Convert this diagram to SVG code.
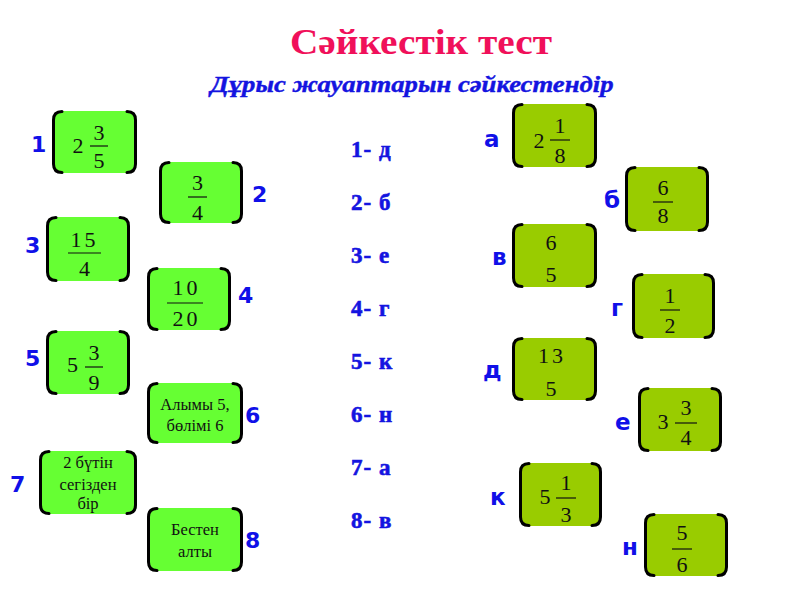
<svg xmlns="http://www.w3.org/2000/svg" width="800" height="600" viewBox="0 0 800 600">
<style>
.bl{fill:#66FF33}
.br{fill:#99CC00}
.br2{fill:none;stroke:#000;stroke-width:3;stroke-linecap:round}
.d{font-family:"Liberation Serif","Times New Roman",serif;font-size:22px;fill:#111;text-anchor:middle}
.w{font-family:"Liberation Serif","Times New Roman",serif;font-size:16.5px;fill:#111;text-anchor:middle}
.bar{stroke:#111;stroke-width:1.2}
.lab{font-family:"DejaVu Sans","Verdana",sans-serif;font-weight:bold;font-size:22px;fill:#1010E8}
.labl{font-family:"DejaVu Sans","Verdana",sans-serif;font-weight:bold;font-size:23px;fill:#1010E8}
.ans{font-family:"Liberation Serif","Times New Roman",serif;font-weight:700;font-size:23px;fill:#1414E0;stroke:#1414E0;stroke-width:0.6;letter-spacing:1px}
</style>
<rect width="800" height="600" fill="#fff"/>
<text x="421" y="54" text-anchor="middle" font-family="Liberation Serif,Times New Roman,serif" font-weight="bold" font-size="35" fill="#F0105A" textLength="262" lengthAdjust="spacingAndGlyphs">Сәйкестік тест</text>
<text x="412" y="92" text-anchor="middle" font-family="Liberation Serif,Times New Roman,serif" font-weight="bold" font-style="italic" font-size="23" fill="#1414E0" stroke="#1414E0" stroke-width="0.4" textLength="403" lengthAdjust="spacingAndGlyphs">Дұрыс жауаптарын сәйкестендір</text>

<g id="answers" font-weight="bold">
<text class="ans" x="351" y="157">1- д</text>
<text class="ans" x="351" y="210">2- б</text>
<text class="ans" x="351" y="263">3- е</text>
<text class="ans" x="351" y="316">4- г</text>
<text class="ans" x="351" y="369">5- к</text>
<text class="ans" x="351" y="422">6- н</text>
<text class="ans" x="351" y="475">7- а</text>
<text class="ans" x="351" y="528">8- в</text>
</g>

<g id="n1" transform="translate(52,110)">
<rect class="bl" x="1" y="1" width="83" height="62" rx="7"/>
<path class="br2" d="M10 1.5Q1.5 1.5 1.5 10V54Q1.5 62.5 10 62.5M75 1.5Q83.5 1.5 83.5 10V54Q83.5 62.5 75 62.5"/>
<text class="d" x="26" y="43">2</text><line class="bar" x1="38" y1="36" x2="56" y2="36"/>
<text class="d" x="47" y="30">3</text><text class="d" x="47" y="58">5</text>
</g>
<text class="lab" x="31" y="152">1</text>

<g id="n2" transform="translate(159,161)">
<rect class="bl" x="1" y="1" width="82" height="61" rx="7"/>
<path class="br2" d="M10 1.5Q1.5 1.5 1.5 10V53Q1.5 61.5 10 61.5M74 1.5Q82.5 1.5 82.5 10V53Q82.5 61.5 74 61.5"/>
<line class="bar" x1="29" y1="36" x2="48" y2="36"/>
<text class="d" x="38.5" y="29">3</text><text class="d" x="38.5" y="59">4</text>
</g>
<text class="lab" x="252" y="202">2</text>

<g id="n3" transform="translate(46,216)">
<rect class="bl" x="1" y="1" width="82" height="64" rx="7"/>
<path class="br2" d="M10 1.5Q1.5 1.5 1.5 10V56Q1.5 64.5 10 64.5M74 1.5Q82.5 1.5 82.5 10V56Q82.5 64.5 74 64.5"/>
<line class="bar" x1="22" y1="37" x2="55" y2="37"/>
<text class="d" x="38.5" y="31" letter-spacing="3">15</text><text class="d" x="38.5" y="60">4</text>
</g>
<text class="lab" x="25" y="253">3</text>

<g id="n4" transform="translate(147,267)">
<rect class="bl" x="1" y="1" width="82" height="62" rx="7"/>
<path class="br2" d="M10 1.5Q1.5 1.5 1.5 10V54Q1.5 62.5 10 62.5M74 1.5Q82.5 1.5 82.5 10V54Q82.5 62.5 74 62.5"/>
<line class="bar" x1="20" y1="36" x2="56" y2="36"/>
<text class="d" x="39.5" y="28" letter-spacing="3">10</text><text class="d" x="39.5" y="59" letter-spacing="3">20</text>
</g>
<text class="lab" x="238" y="303">4</text>

<g id="n5" transform="translate(46,330)">
<rect class="bl" x="1" y="1" width="82" height="63" rx="7"/>
<path class="br2" d="M10 1.5Q1.5 1.5 1.5 10V55Q1.5 63.5 10 63.5M74 1.5Q82.5 1.5 82.5 10V55Q82.5 63.5 74 63.5"/>
<text class="d" x="26.5" y="42">5</text><line class="bar" x1="39" y1="37" x2="57" y2="37"/>
<text class="d" x="48" y="30">3</text><text class="d" x="48" y="60">9</text>
</g>
<text class="lab" x="25" y="366">5</text>

<g id="n6" transform="translate(147,382)">
<rect class="bl" x="1" y="1" width="94" height="60" rx="7"/>
<path class="br2" d="M10 1.5Q1.5 1.5 1.5 10V52Q1.5 60.5 10 60.5M86 1.5Q94.5 1.5 94.5 10V52Q94.5 60.5 86 60.5"/>
<text class="w" x="48" y="28">Алымы 5,</text><text class="w" x="48" y="49">бөлімі 6</text>
</g>
<text class="lab" x="245" y="423">6</text>

<g id="n7" transform="translate(39,450)">
<rect class="bl" x="1" y="1" width="96" height="63" rx="7"/>
<path class="br2" d="M10 1.5Q1.5 1.5 1.5 10V55Q1.5 63.5 10 63.5M88 1.5Q96.5 1.5 96.5 10V55Q96.5 63.5 88 63.5"/>
<text class="w" x="49" y="18">2 бүтін</text><text class="w" x="49" y="40">сегізден</text><text class="w" x="49" y="59">бір</text>
</g>
<text class="lab" x="10" y="492">7</text>

<g id="n8" transform="translate(147,507)">
<rect class="bl" x="1" y="1" width="94" height="63" rx="7"/>
<path class="br2" d="M10 1.5Q1.5 1.5 1.5 10V55Q1.5 63.5 10 63.5M86 1.5Q94.5 1.5 94.5 10V55Q94.5 63.5 86 63.5"/>
<text class="w" x="48" y="28">Бестен</text><text class="w" x="48" y="50">алты</text>
</g>
<text class="lab" x="245" y="548">8</text>

<g id="na" transform="translate(512,103)">
<rect class="br" x="1" y="1" width="83" height="63" rx="7"/>
<path class="br2" d="M10 1.5Q1.5 1.5 1.5 10V55Q1.5 63.5 10 63.5M75 1.5Q83.5 1.5 83.5 10V55Q83.5 63.5 75 63.5"/>
<text class="d" x="27" y="45">2</text><line class="bar" x1="38" y1="37" x2="58" y2="37"/>
<text class="d" x="48" y="30">1</text><text class="d" x="48" y="60">8</text>
</g>
<text class="labl" x="484" y="147">а</text>

<g id="nb" transform="translate(625,166)">
<rect class="br" x="1" y="1" width="82" height="64" rx="7"/>
<path class="br2" d="M10 1.5Q1.5 1.5 1.5 10V56Q1.5 64.5 10 64.5M74 1.5Q82.5 1.5 82.5 10V56Q82.5 64.5 74 64.5"/>
<line class="bar" x1="28" y1="36" x2="48" y2="36"/>
<text class="d" x="38" y="29">6</text><text class="d" x="38" y="57">8</text>
</g>
<text class="labl" x="604" y="208">б</text>

<g id="nv" transform="translate(512,223)">
<rect class="br" x="1" y="1" width="83" height="63" rx="7"/>
<path class="br2" d="M10 1.5Q1.5 1.5 1.5 10V55Q1.5 63.5 10 63.5M75 1.5Q83.5 1.5 83.5 10V55Q83.5 63.5 75 63.5"/>
<text class="d" x="39" y="27">6</text><text class="d" x="39" y="59">5</text>
</g>
<text class="labl" x="492" y="265">в</text>

<g id="ng" transform="translate(632,273)">
<rect class="br" x="1" y="1" width="81" height="64" rx="7"/>
<path class="br2" d="M10 1.5Q1.5 1.5 1.5 10V56Q1.5 64.5 10 64.5M73 1.5Q81.5 1.5 81.5 10V56Q81.5 64.5 73 64.5"/>
<line class="bar" x1="28" y1="37" x2="48" y2="37"/>
<text class="d" x="38" y="30">1</text><text class="d" x="38" y="60">2</text>
</g>
<text class="labl" x="611" y="316">г</text>

<g id="nd" transform="translate(512,337)">
<rect class="br" x="1" y="1" width="83" height="62" rx="7"/>
<path class="br2" d="M10 1.5Q1.5 1.5 1.5 10V54Q1.5 62.5 10 62.5M75 1.5Q83.5 1.5 83.5 10V54Q83.5 62.5 75 62.5"/>
<text class="d" x="40" y="26" letter-spacing="3">13</text><text class="d" x="39" y="59">5</text>
</g>
<text class="labl" x="483" y="378">д</text>

<g id="ne" transform="translate(638,387)">
<rect class="br" x="1" y="1" width="82" height="63" rx="7"/>
<path class="br2" d="M10 1.5Q1.5 1.5 1.5 10V55Q1.5 63.5 10 63.5M74 1.5Q82.5 1.5 82.5 10V55Q82.5 63.5 74 63.5"/>
<text class="d" x="25" y="42">3</text><line class="bar" x1="37" y1="36" x2="59" y2="36"/>
<text class="d" x="48" y="28">3</text><text class="d" x="48" y="58">4</text>
</g>
<text class="labl" x="615" y="430">е</text>

<g id="nk" transform="translate(519,462)">
<rect class="br" x="1" y="1" width="81" height="63" rx="7"/>
<path class="br2" d="M10 1.5Q1.5 1.5 1.5 10V55Q1.5 63.5 10 63.5M73 1.5Q81.5 1.5 81.5 10V55Q81.5 63.5 73 63.5"/>
<text class="d" x="26" y="42">5</text><line class="bar" x1="37" y1="36" x2="57" y2="36"/>
<text class="d" x="47" y="28">1</text><text class="d" x="47" y="60">3</text>
</g>
<text class="labl" x="490" y="505">к</text>

<g id="nn" transform="translate(644,513)">
<rect class="br" x="1" y="1" width="82" height="62" rx="7"/>
<path class="br2" d="M10 1.5Q1.5 1.5 1.5 10V54Q1.5 62.5 10 62.5M74 1.5Q82.5 1.5 82.5 10V54Q82.5 62.5 74 62.5"/>
<line class="bar" x1="28" y1="36" x2="48" y2="36"/>
<text class="d" x="38" y="27">5</text><text class="d" x="38" y="59">6</text>
</g>
<text class="labl" x="622" y="555">н</text>
</svg>
